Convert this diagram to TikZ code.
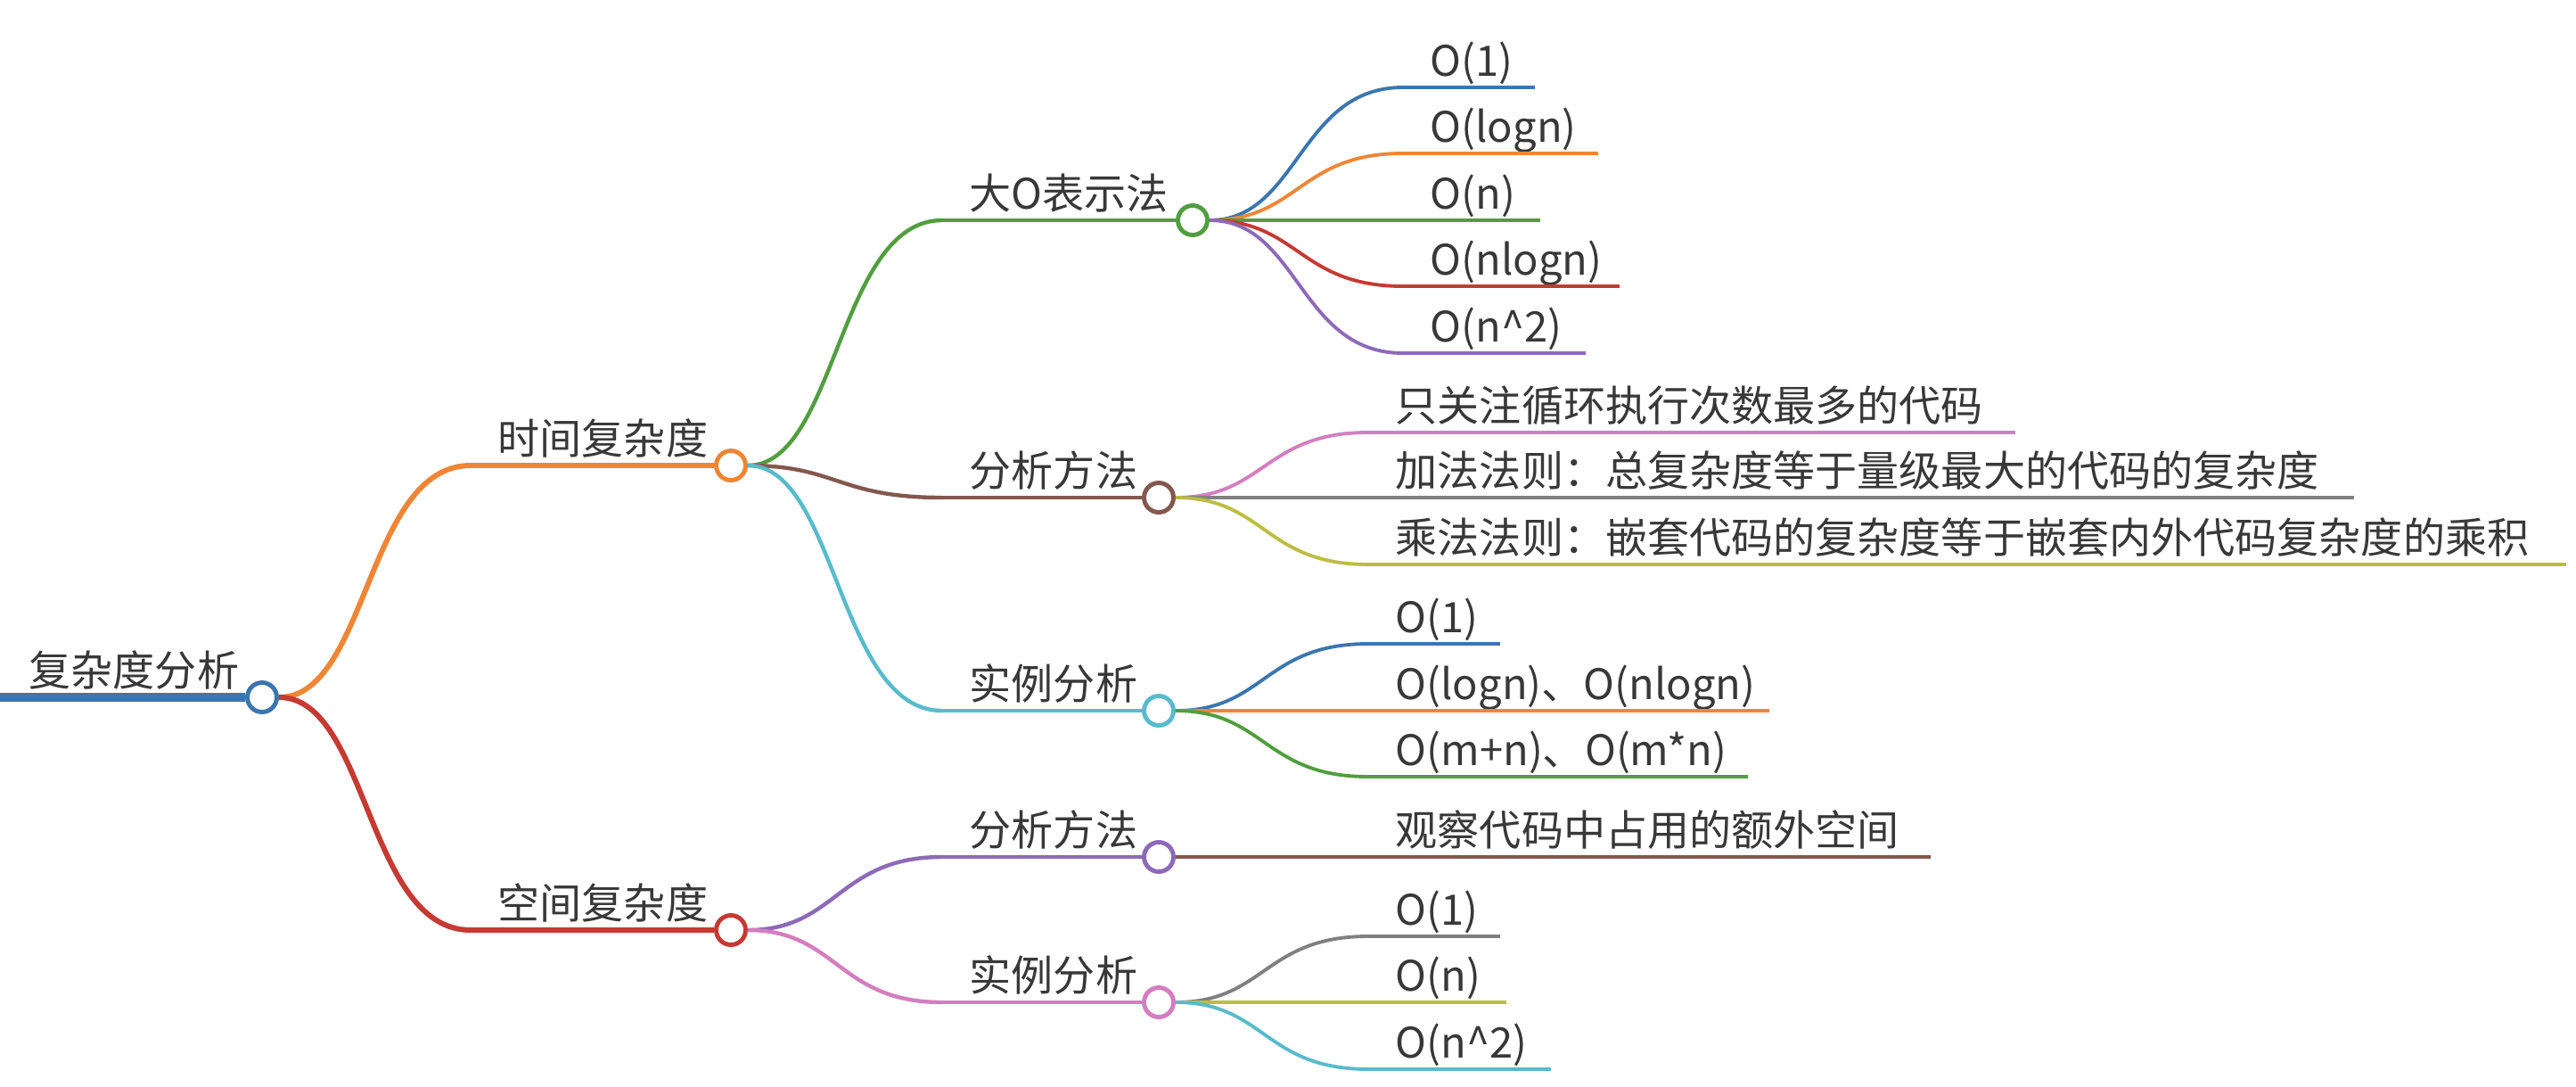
\documentclass[tikz,border=0pt]{standalone}
\usepackage{fontspec}
\setmainfont{Noto Sans CJK SC}
\usetikzlibrary{calc}
\definecolor{mmBlue}{HTML}{3B76AF}
\definecolor{mmOrange}{HTML}{EF8636}
\definecolor{mmGreen}{HTML}{519E3E}
\definecolor{mmRed}{HTML}{C53A32}
\definecolor{mmPurple}{HTML}{8D6AB8}
\definecolor{mmBrown}{HTML}{84584E}
\definecolor{mmPink}{HTML}{D57DBF}
\definecolor{mmGray}{HTML}{808080}
\definecolor{mmOlive}{HTML}{BCBD42}
\definecolor{mmCyan}{HTML}{58BBCC}
\begin{document}
\begin{tikzpicture}[
  topic/.style={anchor=base west, inner sep=0pt, text=black!78, font=\fontsize{13.4pt}{16pt}\selectfont},
  dot/.style={circle, draw=#1, fill=white, line width=1.4pt, minimum size=0.33cm, inner sep=0pt},
  trunk/.style={draw=#1, line width=3.1pt},
  main/.style={draw=#1, line width=1.7pt},
  sub/.style={draw=#1, line width=1.25pt},
  leaf/.style={draw=#1, line width=1.1pt}
]
\useasboundingbox (0,0) rectangle (28.9,-12.18);

% root
\coordinate (rootS) at (0,-7.82);
\node[dot=mmBlue] (root) at (2.94,-7.82) {};
\node[topic] (rootT) at ($(rootS)+(0.32,0.13)$) {复杂度分析};
\draw[trunk=mmBlue] (rootS) -- (root);

% first level
\coordinate (timeS) at (5.28,-5.22);
\node[dot=mmOrange] (time) at (8.20,-5.22) {};
\node[topic] (timeT) at ($(timeS)+(0.30,0.13)$) {时间复杂度};
\draw[main=mmOrange] (timeS) -- (time);
\draw[main=mmOrange] (root.east) .. controls +(1.0,0) and +(-1.17,0) .. (timeS);

\coordinate (spaceS) at (5.28,-10.43);
\node[dot=mmRed] (space) at (8.20,-10.43) {};
\node[topic] (spaceT) at ($(spaceS)+(0.30,0.13)$) {空间复杂度};
\draw[main=mmRed] (spaceS) -- (space);
\draw[main=mmRed] (root.east) .. controls +(1.0,0) and +(-1.17,0) .. (spaceS);

% second level, time
\coordinate (bigoS) at (10.57,-2.47);
\node[dot=mmGreen] (bigo) at (13.38,-2.47) {};
\node[topic] (bigoT) at ($(bigoS)+(0.30,0.13)$) {大O表示法};
\draw[sub=mmGreen] (bigoS) -- (bigo);
\draw[sub=mmGreen] (time.east) .. controls +(1.0,0) and +(-1.17,0) .. (bigoS);

\coordinate (tmethS) at (10.57,-5.58);
\node[dot=mmBrown] (tmeth) at (13.00,-5.58) {};
\node[topic] (tmethT) at ($(tmethS)+(0.30,0.13)$) {分析方法};
\draw[sub=mmBrown] (tmethS) -- (tmeth);
\draw[sub=mmBrown] (time.east) .. controls +(1.0,0) and +(-1.17,0) .. (tmethS);

\coordinate (tcaseS) at (10.57,-7.97);
\node[dot=mmCyan] (tcase) at (13.00,-7.97) {};
\node[topic] (tcaseT) at ($(tcaseS)+(0.30,0.13)$) {实例分析};
\draw[sub=mmCyan] (tcaseS) -- (tcase);
\draw[sub=mmCyan] (time.east) .. controls +(1.0,0) and +(-1.17,0) .. (tcaseS);

% second level, space
\coordinate (smethS) at (10.57,-9.61);
\node[dot=mmPurple] (smeth) at (13.00,-9.61) {};
\node[topic] (smethT) at ($(smethS)+(0.30,0.13)$) {分析方法};
\draw[sub=mmPurple] (smethS) -- (smeth);
\draw[sub=mmPurple] (space.east) .. controls +(1.0,0) and +(-1.17,0) .. (smethS);

\coordinate (scaseS) at (10.57,-11.24);
\node[dot=mmPink] (scase) at (13.00,-11.24) {};
\node[topic] (scaseT) at ($(scaseS)+(0.30,0.13)$) {实例分析};
\draw[sub=mmPink] (scaseS) -- (scase);
\draw[sub=mmPink] (space.east) .. controls +(1.0,0) and +(-1.17,0) .. (scaseS);

% leaves of big O
\coordinate (oaS) at (15.74,-0.98); \coordinate (oaE) at (17.22,-0.98);
\node[topic] (oaT) at ($(oaS)+(0.30,0.13)$) {O(1)};
\draw[leaf=mmBlue] (oaS) -- (oaE);
\draw[leaf=mmBlue] (bigo.east) .. controls +(1.0,0) and +(-1.17,0) .. (oaS);

\coordinate (obS) at (15.74,-1.72); \coordinate (obE) at (17.93,-1.72);
\node[topic] (obT) at ($(obS)+(0.30,0.13)$) {O(logn)};
\draw[leaf=mmOrange] (obS) -- (obE);
\draw[leaf=mmOrange] (bigo.east) .. controls +(1.0,0) and +(-1.17,0) .. (obS);

\coordinate (ocS) at (15.74,-2.47); \coordinate (ocE) at (17.28,-2.47);
\node[topic] (ocT) at ($(ocS)+(0.30,0.13)$) {O(n)};
\draw[leaf=mmGreen] (ocS) -- (ocE);
\draw[leaf=mmGreen] (bigo.east) -- (ocS);

\coordinate (odS) at (15.74,-3.21); \coordinate (odE) at (18.17,-3.21);
\node[topic] (odT) at ($(odS)+(0.30,0.13)$) {O(nlogn)};
\draw[leaf=mmRed] (odS) -- (odE);
\draw[leaf=mmRed] (bigo.east) .. controls +(1.0,0) and +(-1.17,0) .. (odS);

\coordinate (oeS) at (15.74,-3.96); \coordinate (oeE) at (17.79,-3.96);
\node[topic] (oeT) at ($(oeS)+(0.30,0.13)$) {O(n\^{}2)};
\draw[leaf=mmPurple] (oeS) -- (oeE);
\draw[leaf=mmPurple] (bigo.east) .. controls +(1.0,0) and +(-1.17,0) .. (oeS);

% leaves of time methods
\coordinate (ruleaS) at (15.35,-4.85); \coordinate (ruleaE) at (22.61,-4.85);
\node[topic] (ruleaT) at ($(ruleaS)+(0.30,0.13)$) {只关注循环执行次数最多的代码};
\draw[leaf=mmPink] (ruleaS) -- (ruleaE);
\draw[leaf=mmPink] (tmeth.east) .. controls +(1.0,0) and +(-1.17,0) .. (ruleaS);

\coordinate (rulebS) at (15.35,-5.58); \coordinate (rulebE) at (26.41,-5.58);
\node[topic] (rulebT) at ($(rulebS)+(0.30,0.13)$) {加法法则：总复杂度等于量级最大的代码的复杂度};
\draw[leaf=mmGray] (rulebS) -- (rulebE);
\draw[leaf=mmGray] (tmeth.east) -- (rulebS);

\coordinate (rulecS) at (15.35,-6.33); \coordinate (rulecE) at (28.79,-6.33);
\node[topic] (rulecT) at ($(rulecS)+(0.30,0.13)$) {乘法法则：嵌套代码的复杂度等于嵌套内外代码复杂度的乘积};
\draw[leaf=mmOlive] (rulecS) -- (rulecE);
\draw[leaf=mmOlive] (tmeth.east) .. controls +(1.0,0) and +(-1.17,0) .. (rulecS);

% leaves of time cases
\coordinate (caS) at (15.35,-7.22); \coordinate (caE) at (16.83,-7.22);
\node[topic] (caT) at ($(caS)+(0.30,0.13)$) {O(1)};
\draw[leaf=mmBlue] (caS) -- (caE);
\draw[leaf=mmBlue] (tcase.east) .. controls +(1.0,0) and +(-1.17,0) .. (caS);

\coordinate (cbS) at (15.35,-7.97); \coordinate (cbE) at (19.85,-7.97);
\node[topic] (cbT) at ($(cbS)+(0.30,0.13)$) {O(logn)、O(nlogn)};
\draw[leaf=mmOrange] (cbS) -- (cbE);
\draw[leaf=mmOrange] (tcase.east) -- (cbS);

\coordinate (ccS) at (15.35,-8.71); \coordinate (ccE) at (19.61,-8.71);
\node[topic] (ccT) at ($(ccS)+(0.30,0.13)$) {O(m+n)、O(m*n)};
\draw[leaf=mmGreen] (ccS) -- (ccE);
\draw[leaf=mmGreen] (tcase.east) .. controls +(1.0,0) and +(-1.17,0) .. (ccS);

% leaf of space method
\coordinate (seeS) at (15.35,-9.61); \coordinate (seeE) at (21.66,-9.61);
\node[topic] (seeT) at ($(seeS)+(0.30,0.13)$) {观察代码中占用的额外空间};
\draw[leaf=mmBrown] (seeS) -- (seeE);
\draw[leaf=mmBrown] (smeth.east) -- (seeS);

% leaves of space cases
\coordinate (saS) at (15.35,-10.50); \coordinate (saE) at (16.83,-10.50);
\node[topic] (saT) at ($(saS)+(0.30,0.13)$) {O(1)};
\draw[leaf=mmGray] (saS) -- (saE);
\draw[leaf=mmGray] (scase.east) .. controls +(1.0,0) and +(-1.17,0) .. (saS);

\coordinate (sbS) at (15.35,-11.24); \coordinate (sbE) at (16.90,-11.24);
\node[topic] (sbT) at ($(sbS)+(0.30,0.13)$) {O(n)};
\draw[leaf=mmOlive] (sbS) -- (sbE);
\draw[leaf=mmOlive] (scase.east) -- (sbS);

\coordinate (scS) at (15.35,-11.99); \coordinate (scE) at (17.40,-11.99);
\node[topic] (scT) at ($(scS)+(0.30,0.13)$) {O(n\^{}2)};
\draw[leaf=mmCyan] (scS) -- (scE);
\draw[leaf=mmCyan] (scase.east) .. controls +(1.0,0) and +(-1.17,0) .. (scS);
\end{tikzpicture}
\end{document}
